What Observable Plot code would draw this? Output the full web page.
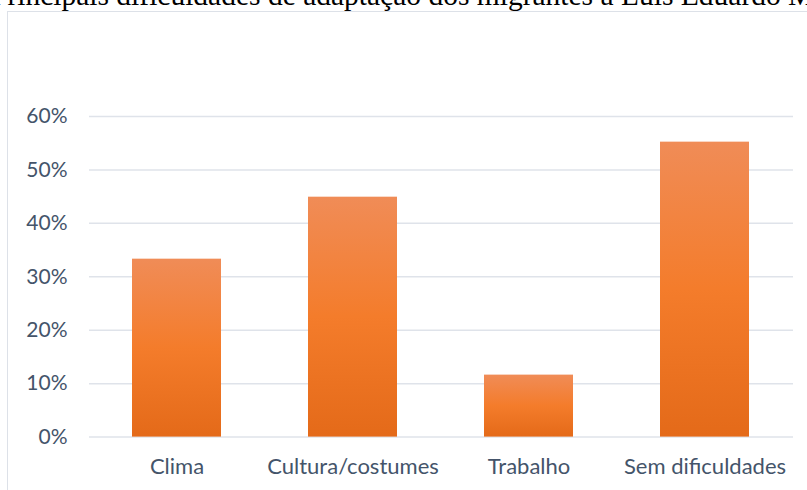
<!DOCTYPE html>
<html>
<head>
<meta charset="utf-8">
<script src="https://cdn.jsdelivr.net/npm/d3@7"></script>
<script src="https://cdn.jsdelivr.net/npm/@observablehq/plot@0.6"></script>
<style>
  html, body { margin: 0; padding: 0; background: #fff; }
  #wrap { position: relative; width: 807px; height: 490px; overflow: hidden; }
  #title { position: absolute; left: -9px; top: -19px; white-space: nowrap;
           font-family: "Liberation Serif", "Times New Roman", serif; font-size: 29.5px; color: #000; line-height: 1; }
  #frame { position: absolute; left: 7px; top: 11px; width: 1000px; height: 1000px;
           border: 1.5px solid #dde1e8; box-sizing: border-box; }
  #chart { position: absolute; left: 0; top: 0; }
</style>
</head>
<body>
<div id="wrap">
  <div id="frame"></div>
  <div id="title">Principais dificuldades de adaptação dos migrantes a Luís Eduardo Magalhães</div>
  <div id="chart"></div>
</div>
<script>
const categories = ["Clima", "Cultura/costumes", "Trabalho", "Sem dificuldades"];
const values = [0.333, 0.449, 0.116, 0.552];
const yTicks = [0, 0.1, 0.2, 0.3, 0.4, 0.5, 0.6];

const data = categories.map((c, i) => ({cat: c, val: values[i]}));
const textColor = "#44546a";

const plot = Plot.plot({
  width: 807,
  height: 490,
  marginTop: 116,
  marginBottom: 53.4,
  marginLeft: 89,
  marginRight: 14,
  style: {fontFamily: "Lato, 'Open Sans', sans-serif", fontSize: "21px", color: textColor, background: "transparent"},
  x: {domain: categories, paddingInner: 0.494, paddingOuter: 0.247, label: null},
  y: {domain: [0, 0.6], label: null},
  marks: [
    Plot.gridY(yTicks, {stroke: "#dfe3ea", strokeOpacity: 1, strokeWidth: 1.5}),
    Plot.barY(data, {x: "cat", y: "val", fill: "url(#orangeGrad)"}),
    Plot.axisY(yTicks, {tickSize: 0, tickPadding: 22, tickFormat: d3.format(".0%"), label: null, fill: textColor, fontSize: 21}),
    Plot.axisX({tickSize: 0, tickPadding: 21, label: null, fill: textColor, fontSize: 22})
  ]
});

const svg = d3.select(plot);
const defs = svg.insert("defs", ":first-child");
const g = defs.append("linearGradient").attr("id", "orangeGrad")
  .attr("x1", 0).attr("y1", 0).attr("x2", 0).attr("y2", 1);
g.append("stop").attr("offset", "0%").attr("stop-color", "#f08c57");
g.append("stop").attr("offset", "50%").attr("stop-color", "#f47c2b");
g.append("stop").attr("offset", "100%").attr("stop-color", "#e46a19");

document.getElementById("chart").appendChild(plot);
</script>
</body>
</html>
